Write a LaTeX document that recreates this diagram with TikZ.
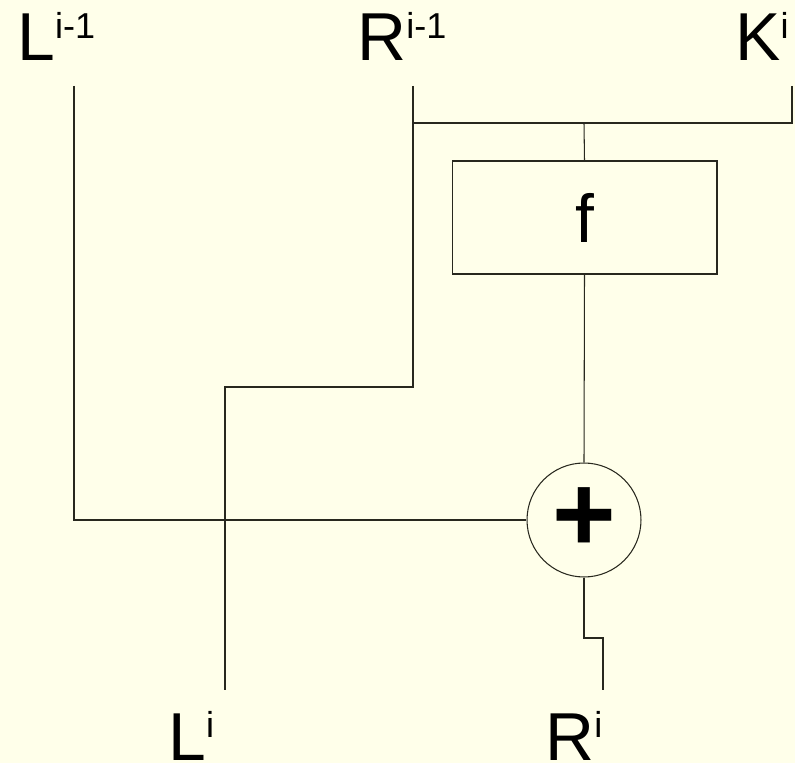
\documentclass[tikz,border=0pt]{standalone}
\usepackage{fontspec}
\setmainfont{Liberation Sans}
\usetikzlibrary{positioning,calc}
\definecolor{feistelbg}{RGB}{255,255,234}
\definecolor{feistelline}{RGB}{40,40,30}
\newcommand{\feistellbl}[2]{{\fontsize{38.6}{40}\selectfont #1\raisebox{13pt}{\fontsize{20.5}{22}\selectfont #2}}}

\begin{document}
\begin{tikzpicture}[
  x=0.02cm, y=-0.02cm,
  lbl/.style={anchor=base west, inner sep=0pt},
  fbox/.style={draw=feistelline, line width=0.6pt, minimum width=5.3cm,
               minimum height=2.26cm, inner sep=0pt,
               font=\fontsize{38.6}{40}\selectfont},
  xorc/.style={draw=feistelline, line width=0.6pt, circle, minimum size=2.28cm,
               inner sep=0pt, font=\fontsize{62}{64}\selectfont\bfseries},
  wire/.style={draw=feistelline, line width=0.6pt}
]
\fill[feistelbg] (0,0) rectangle (795,763);
\useasboundingbox (0,0) rectangle (795,763);

% labels
\node[lbl] (Lin)  at (17,61)   {\feistellbl{L}{i-1}};
\node[lbl] (Rin)  at (357,61)  {\feistellbl{R}{i-1}};
\node[lbl] (Kin)  at (735,61)  {\feistellbl{K}{i}};
\node[lbl] (Lout) at (168,760) {\feistellbl{L}{i}};
\node[lbl] (Rout) at (545,760) {\feistellbl{R}{i}};

% round function and xor
\node[fbox] (f)    at (584.5,217.5) {f};
\node[xorc] (plus) at (584,520) {\raisebox{-4.5pt}{+}};

% wire ends
\coordinate (lin)   at (74,86);
\coordinate (rin)   at (413,86);
\coordinate (kin)   at (792,86);
\coordinate (kjoin) at (413,123);
\coordinate (fjoin) at (584,123);
\coordinate (lout)  at (225,690);
\coordinate (rout)  at (603,690);

% wires
\draw[wire] (lin) |- (plus.west);
\draw[wire] (rin) -- (413,387) -| (lout);
\draw[wire] (kin) |- (kjoin);
\draw[wire] (fjoin) -- (f.north);
\draw[wire] (f.south) -- (plus.north);
\draw[wire] (plus.south) -- (584,638) -| (rout);
\end{tikzpicture}
\end{document}
